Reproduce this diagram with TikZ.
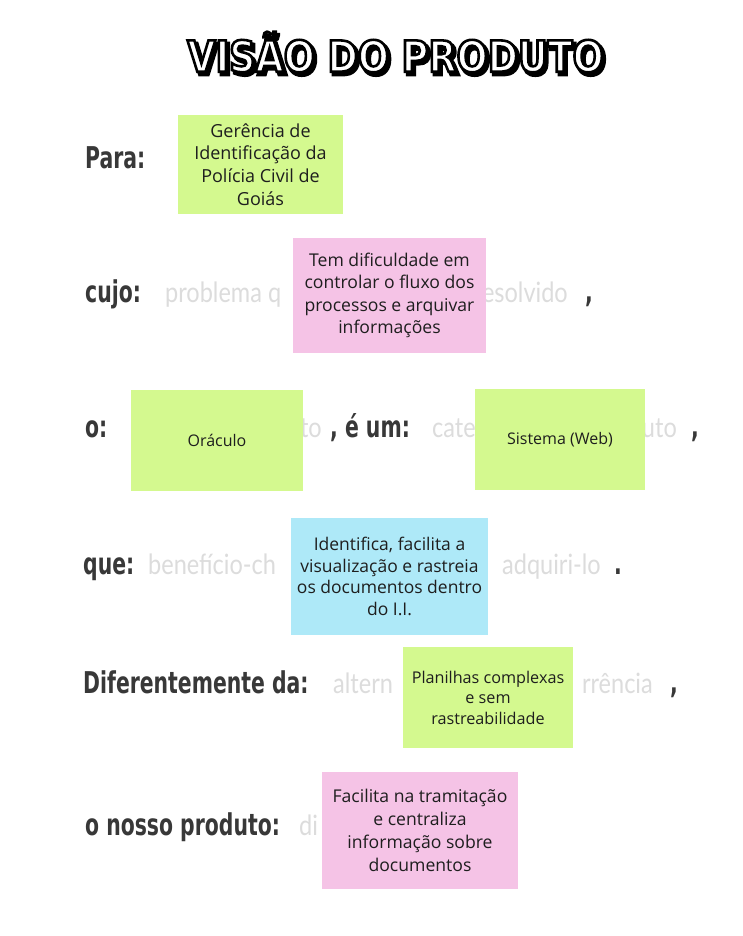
\documentclass[tikz,border=0pt]{standalone}
\usepackage{fontspec}
\setmainfont[Ligatures=NoCommon]{Open Sans}
\newfontfamily\labfont[FakeStretch=0.68]{DejaVu Sans}
\newfontfamily\greyfont[FakeStretch=0.84]{Lato}
\newfontfamily\titlefont[FakeStretch=0.85,FakeBold=6]{DejaVu Sans}
\newfontfamily\titleshadow[FakeStretch=0.85,FakeBold=8]{DejaVu Sans}
\definecolor{lime}{HTML}{D4F98F}
\definecolor{rosa}{HTML}{F5C3E6}
\definecolor{celeste}{HTML}{AEE9F8}
\definecolor{labc}{HTML}{383838}
\definecolor{greyc}{HTML}{DCDCDC}
\definecolor{boxtext}{HTML}{1E1E1E}
\tikzset{
  lab/.style={anchor=base west, inner sep=0pt, text=labc, font=\labfont\bfseries\fontsize{30}{30}\selectfont},
  punct/.style={anchor=base west, inner sep=0pt, text=labc, font=\labfont\bfseries\fontsize{30}{30}\selectfont},
  ghost/.style={inner sep=0pt, text=greyc, font=\greyfont\fontsize{28}{28}\selectfont},
  sticky/.style={draw=none, inner sep=2pt, align=center, text=boxtext,
    font=\fontsize{16}{22.7}\selectfont},
}
\begin{document}
\begin{tikzpicture}[x=1pt,y=-1pt]
\useasboundingbox[fill=white] (0,0) rectangle (742,936);
% title
\node[text=black, font=\titleshadow\bfseries\fontsize{43}{43}\selectfont] (tshadow) at (398,55)
  {VISÃO DO PRODUTO};
\node[font=\titlefont\bfseries\fontsize{43}{43}\selectfont] (title) at (395.5,52)
  {\special{pdf:bcolor [1] [0]}VISÃO DO PRODUTO\special{pdf:ecolor}};
% ghost placeholder fragments
\node[ghost, anchor=base west] (g1) at (165,302) {problema q};
\node[ghost, anchor=base east] (g2) at (568,302) {esolvido};
\node[ghost, anchor=base east] (g3) at (322,437) {to};
\node[ghost, anchor=base west] (g4) at (432,437) {cate};
\node[ghost, anchor=base east] (g5) at (677,437) {uto};
\node[ghost, anchor=base west] (g6) at (148,574) {benefício-ch};
\node[ghost, anchor=base east] (g7) at (601,574) {adquiri-lo};
\node[ghost, anchor=base west] (g8) at (333,693) {altern};
\node[ghost, anchor=base east] (g9) at (653,693) {rrência};
\node[ghost, anchor=base west] (g10) at (299,835) {di};
% labels
\node[lab] (para) at (85,168) {Para:};
\node[lab] (cujo) at (85,302) {cujo:};
\node[lab] (o) at (85,437) {o:};
\node[lab] (eum) at (330,437) {, é um:};
\node[lab] (que) at (83,574) {que:};
\node[lab] (dif) at (83,693) {Diferentemente da:};
\node[lab] (nosso) at (85,835) {o nosso produto:};
\node[punct] (c1) at (585,302) {,};
\node[punct] (c2) at (691,437) {,};
\node[punct] (c3) at (614,574) {.};
\node[punct] (c4) at (670,693) {,};
% sticky notes
\node[sticky, fill=lime, minimum width=165pt, minimum height=99pt,
  font=\fontsize{18}{22.7}\selectfont] (bpara) at (260.5,164.5)
  {Gerência de\\Identificação da\\Polícia Civil de\\Goiás};
\node[sticky, fill=rosa, minimum width=193pt, minimum height=115pt,
  font=\fontsize{17.6}{22.4}\selectfont] (bcujo) at (389.5,295.5)
  {Tem dificuldade em\\controlar o fluxo dos\\processos e arquivar\\informações};
\node[sticky, fill=lime, minimum width=172pt, minimum height=101pt] (boraculo) at (217,440.5)
  {Oráculo};
\node[sticky, fill=lime, minimum width=170pt, minimum height=101pt] (bsistema) at (560,439.5)
  {Sistema (Web)};
\node[sticky, fill=celeste, minimum width=197pt, minimum height=117pt,
  font=\fontsize{17.5}{21.7}\selectfont] (bque) at (389.5,576.5)
  {Identifica, facilita a\\visualização e rastreia\\os documentos dentro\\do I.I.};
\node[sticky, fill=lime, minimum width=170pt, minimum height=101pt,
  font=\fontsize{16.2}{20.5}\selectfont] (bdif) at (488,697.5)
  {Planilhas complexas\\e sem\\rastreabilidade};
\node[sticky, fill=rosa, minimum width=196pt, minimum height=117pt,
  font=\fontsize{17.6}{23}\selectfont] (bnosso) at (420,830.5)
  {Facilita na tramitação\\e centraliza\\informação sobre\\documentos};
\end{tikzpicture}
\end{document}
